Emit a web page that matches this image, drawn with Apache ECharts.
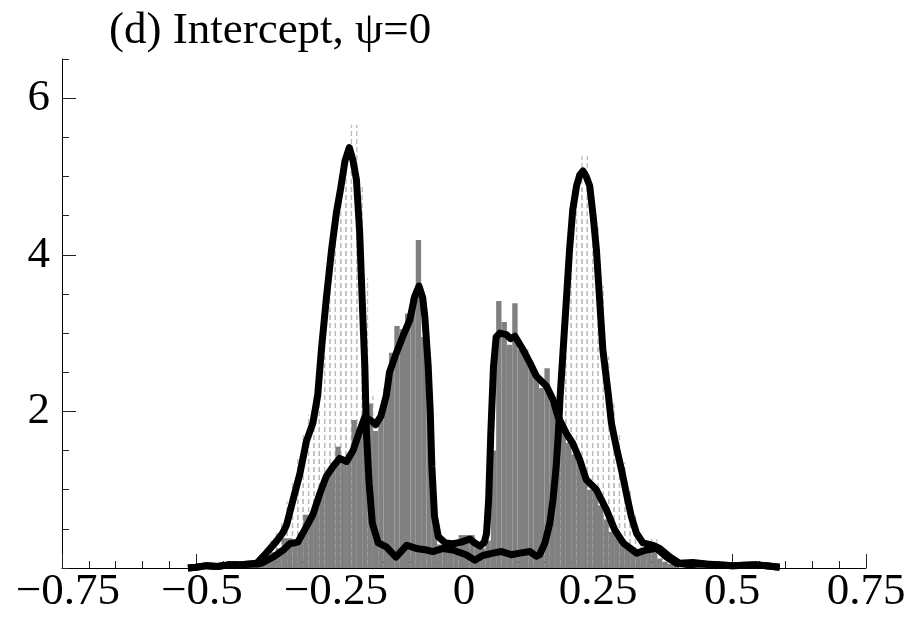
<!DOCTYPE html>
<html>
<head>
<meta charset="utf-8">
<script src="https://cdn.jsdelivr.net/npm/echarts@6/dist/echarts.min.js"></script>
<style>html,body{margin:0;padding:0;background:#fff;}#c{width:923px;height:620px;}</style>
</head>
<body>
<div id="c"></div>
<script>
// ---- data ----
const titleText = '(d) Intercept, \u03c8=0';
const xTicks = [-0.75, -0.5, -0.25, 0, 0.25, 0.5, 0.75];
const yTickLabels = [2, 4, 6];
const binWidth = 0.01;
const darkStart = -0.42;
const darkHist = [0.03,0.05,0.06,0.08,0.12,0.15,0.2,0.25,0.38,0.38,0.33,0.45,0.68,0.68,0.8,1.0,1.23,1.28,1.55,1.35,1.45,1.89,1.7,1.85,2.10,1.75,2.0,2.3,2.75,3.09,3.05,3.25,3.45,4.19,2.95,2.5,0.6,0.3,0.3,0.25,0.3,0.42,0.42,0.42,0.3,0.25,0.35,1.5,3.41,3.14,2.85,3.38,2.79,2.79,2.6,2.45,2.3,2.55,2.1,2.02,1.75,1.6,1.45,1.35,1.21,1.0,0.98,0.8,0.62,0.46,0.46,0.3,0.25,0.2,0.22,0.25,0.3,0.2,0.12,0.08,0.05,0.03];
const lightStart = -0.40;
const lightHist = [0.05,0.1,0.18,0.25,0.35,0.45,0.6,0.85,1.1,1.4,1.7,1.95,2.2,2.7,3.3,3.95,4.45,4.9,5.25,5.66,4.9,3.7,2.2,0.9,0.35,0.28,0.2,0.2,0.25,0.25,0.25,0.22,0.22,0.2,0.22,0.25,0.2,0.22,0.2,0.22,0.25,0.2,0.18,0.2,0.22,0.2,0.22,0.2,0.22,0.2,0.22,0.2,0.22,0.25,0.3,0.6,1.1,1.8,2.7,3.6,4.4,4.9,5.26,4.9,4.4,3.6,2.7,2.1,1.7,1.35,1.0,0.7,0.45,0.35,0.3,0.41,0.2,0.1,0.05];
const densityA = [[-0.515,0.0],[-0.50,0.01],[-0.48,0.03],[-0.46,0.02],[-0.44,0.04],[-0.42,0.04],[-0.40,0.05],[-0.387,0.06],[-0.369,0.19],[-0.35,0.34],[-0.338,0.45],[-0.331,0.55],[-0.319,0.87],[-0.306,1.21],[-0.294,1.62],[-0.282,1.85],[-0.273,2.2],[-0.266,2.79],[-0.257,3.43],[-0.247,4.07],[-0.238,4.54],[-0.23,4.85],[-0.222,5.2],[-0.214,5.37],[-0.207,5.2],[-0.2007,4.96],[-0.1946,4.28],[-0.19,3.43],[-0.185,2.57],[-0.182,1.72],[-0.177,1.08],[-0.171,0.57],[-0.160,0.32],[-0.145,0.27],[-0.127,0.14],[-0.107,0.29],[-0.089,0.25],[-0.070,0.23],[-0.058,0.21],[-0.039,0.25],[-0.021,0.23],[0.004,0.17],[0.02,0.10],[0.035,0.16],[0.054,0.19],[0.070,0.21],[0.088,0.17],[0.104,0.19],[0.123,0.21],[0.135,0.15],[0.141,0.17],[0.151,0.32],[0.160,0.57],[0.166,0.87],[0.172,1.30],[0.176,1.72],[0.179,2.15],[0.185,2.79],[0.191,3.43],[0.197,4.07],[0.203,4.58],[0.210,4.88],[0.216,5.02],[0.222,5.07],[0.228,5.0],[0.2345,4.88],[0.241,4.49],[0.247,4.07],[0.253,3.43],[0.259,2.79],[0.269,2.23],[0.275,1.85],[0.284,1.55],[0.294,1.25],[0.303,0.95],[0.312,0.66],[0.322,0.44],[0.334,0.32],[0.353,0.29],[0.365,0.25],[0.384,0.14],[0.402,0.06],[0.427,0.07],[0.452,0.05],[0.502,0.03],[0.546,0.04],[0.564,0.03],[0.589,0.01]];
const densityB = [[-0.515,0.0],[-0.50,0.01],[-0.48,0.03],[-0.46,0.02],[-0.44,0.04],[-0.42,0.04],[-0.40,0.05],[-0.385,0.05],[-0.375,0.07],[-0.356,0.14],[-0.337,0.23],[-0.325,0.31],[-0.31,0.33],[-0.297,0.49],[-0.282,0.68],[-0.269,0.95],[-0.257,1.17],[-0.244,1.30],[-0.232,1.40],[-0.219,1.36],[-0.207,1.50],[-0.194,1.76],[-0.185,1.93],[-0.173,1.88],[-0.165,1.83],[-0.155,1.94],[-0.145,2.2],[-0.139,2.5],[-0.126,2.75],[-0.114,2.96],[-0.101,3.17],[-0.092,3.47],[-0.084,3.60],[-0.077,3.45],[-0.073,3.2],[-0.067,2.6],[-0.063,2.0],[-0.060,1.3],[-0.055,0.66],[-0.048,0.40],[-0.035,0.32],[-0.02,0.31],[-0.005,0.33],[0.011,0.37],[0.02,0.32],[0.03,0.28],[0.038,0.33],[0.042,0.44],[0.046,0.87],[0.050,1.72],[0.055,2.57],[0.060,2.95],[0.067,3.0],[0.079,2.98],[0.087,2.93],[0.095,2.96],[0.110,2.79],[0.123,2.62],[0.135,2.45],[0.154,2.32],[0.166,2.15],[0.175,1.94],[0.191,1.72],[0.203,1.59],[0.216,1.38],[0.228,1.13],[0.247,1.0],[0.266,0.74],[0.281,0.49],[0.297,0.32],[0.322,0.19],[0.340,0.23],[0.359,0.25],[0.378,0.14],[0.396,0.06],[0.421,0.04],[0.44,0.05],[0.47,0.04],[0.50,0.03],[0.546,0.04],[0.564,0.03],[0.589,0.01]];

// ---- build ----
function bins(start, vals) {
  return vals.map((v, i) => {
    const x0 = Math.round((start + i * binWidth) * 1000) / 1000;
    return [x0, Math.round((x0 + binWidth) * 1000) / 1000, v];
  });
}
const FONT = 'Liberation Serif';
const fmtX = v => {
  const r = Math.round(v * 100) / 100;
  if (r === 0) return '0';
  if (r < 0) return '{n|\u2212' + String(Math.abs(r)) + '}';
  return String(r);
};
const chart = echarts.init(document.getElementById('c'), null, {renderer: 'canvas'});
chart.setOption({
  animation: false,
  backgroundColor: '#fff',
  title: {text: titleText, left: 104, top: 4,
    textStyle: {fontFamily: FONT, fontSize: 45, fontWeight: 'normal', color: '#000'}},
  grid: {left: 62, right: 57, top: 59, bottom: 52, containLabel: false},
  xAxis: {
    type: 'value', min: -0.75, max: 0.75, interval: 0.25,
    axisLine: {show: true, onZero: false, lineStyle: {color: '#000', width: 1}},
    axisTick: {show: true, inside: true, length: 14, lineStyle: {color: '#222'}},
    minorTick: {show: true, splitNumber: 5, length: 7, lineStyle: {color: '#222'}},
    splitLine: {show: false}, minorSplitLine: {show: false},
    axisLabel: {fontFamily: FONT, fontSize: 45, color: '#000', margin: 2, formatter: fmtX,
      customValues: xTicks,
      rich: {n: {fontFamily: FONT, fontSize: 45, color: '#000', padding: [0, 0, 0, 12]}}}
  },
  yAxis: [{
    type: 'value', min: 0, max: 6.5, interval: 0.5,
    axisLine: {show: true, onZero: false, lineStyle: {color: '#000', width: 1}},
    axisTick: {show: true, inside: true, length: 7, lineStyle: {color: '#222'}},
    axisLabel: {show: false}, splitLine: {show: false}
  }, {
    type: 'value', min: 0, max: 6.5, position: 'left',
    axisLine: {show: false, onZero: false},
    axisTick: {show: true, inside: true, length: 14, customValues: yTickLabels, lineStyle: {color: '#222'}},
    axisLabel: {show: true, fontFamily: FONT, fontSize: 45, color: '#000', margin: 12, customValues: yTickLabels},
    splitLine: {show: false}
  }],
  series: [{
    type: 'custom', name: 'light', xAxisIndex: 0, yAxisIndex: 0,
    data: bins(lightStart, lightHist),
    encode: {x: [0, 1], y: 2},
    renderItem: function (params, api) {
      const a = api.coord([api.value(0), 0]);
      const b = api.coord([api.value(1), api.value(2)]);
      const st = {stroke: '#bcbcbc', lineWidth: 1.3, lineDash: [5, 3]};
      return {type: 'group', children: [
        {type: 'line', shape: {x1: a[0], y1: a[1], x2: a[0], y2: b[1]}, style: st},
        {type: 'line', shape: {x1: b[0], y1: a[1], x2: b[0], y2: b[1]}, style: st}
      ]};
    },
    z: 1
  }, {
    type: 'custom', name: 'dark', xAxisIndex: 0, yAxisIndex: 0,
    data: bins(darkStart, darkHist),
    encode: {x: [0, 1], y: 2},
    renderItem: function (params, api) {
      const a = api.coord([api.value(0), 0]);
      const b = api.coord([api.value(1), api.value(2)]);
      return {type: 'rect', shape: {x: a[0], y: b[1], width: b[0] - a[0], height: a[1] - b[1]},
        style: {fill: '#808080'}};
    },
    z: 2
  }, {
    type: 'line', name: 'A', data: densityA, showSymbol: false, clip: false, smooth: false,
    lineStyle: {color: '#000', width: 7, join: 'round', cap: 'butt'}, z: 3
  }, {
    type: 'line', name: 'B', data: densityB, showSymbol: false, clip: false, smooth: false,
    lineStyle: {color: '#000', width: 7, join: 'round', cap: 'butt'}, z: 3
  }]
});
</script>
</body>
</html>
